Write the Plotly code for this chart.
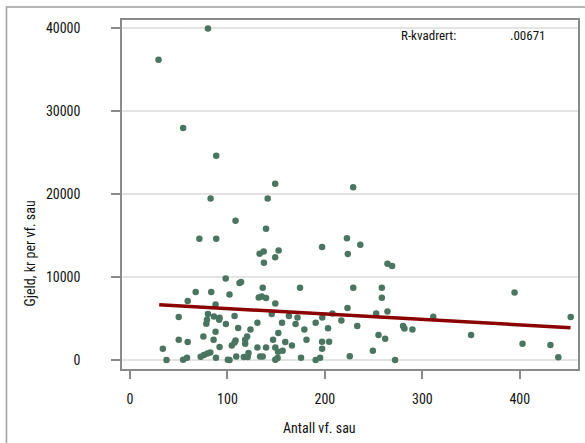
import plotly.graph_objects as go

# Scatter data: Antall vf. sau (x) vs Gjeld, kr per vf. sau (y)
antall = [80, 29.3, 54.5, 88.5, 149, 82.7, 141.3, 108.3, 139.6, 71.2,
          88.5, 133, 137.2, 152.5, 149, 137.4, 98.2, 112.4, 114, 229,
          222.6, 197.1, 236.3, 223.5, 264.2, 269, 174.5, 229.1, 258.4, 258.4,
          394.6, 223.2, 252.6, 264.2, 207.7, 197.3, 216.9, 190.5, 178.9, 203.2,
          233.2, 280.2, 281.6, 289.8, 311.2, 350, 452.2, 181.1, 197.1, 204.3,
          197.1, 255, 261.8, 249.2, 402.8, 431.4, 439.5, 225.5, 272, 175.5,
          190.5, 195.1, 67.4, 83.4, 102.1, 136.2, 132.1, 135.2, 139.6, 59.2,
          87.8, 149.1, 50, 80, 86.1, 91.9, 79, 78.3, 107.3, 98.4,
          111, 123.6, 130.7, 145.4, 156, 163.1, 171.9, 169.9, 87.8, 75.3,
          59.2, 50, 33.7, 37.5, 54.5, 58.5, 72.5, 75.9, 79.4, 82.4,
          85.8, 91.9, 88.2, 100.4, 102.1, 104.5, 108.3, 107.3, 109, 118.2,
          118.2, 120.2, 116.8, 121.6, 130.7, 133.5, 136.2, 139.6, 146.8, 152.2,
          149.1, 151.9, 149.1, 151.5, 156.6, 159.3, 166.2, 120.8, 91.5]
gjeld = [40000, 36240, 28010, 24640, 21265, 19500, 19500, 16830, 15840, 14660,
         14660, 12850, 13110, 13230, 12430, 11750, 9860, 9300, 9440, 20870,
         14720, 13650, 13920, 12820, 11630, 11350, 8730, 8730, 8730, 7530,
         8170, 6290, 5640, 5880, 5640, 5160, 4800, 4520, 3690, 3850,
         4120, 4120, 3830, 3710, 5240, 3030, 5200, 2470, 2230, 2230,
         1390, 3030, 2590, 1140, 1990, 1830, 360, 480, 20, 300,
         20, 300, 8210, 8210, 7930, 8730, 7570, 7690, 7490, 7130,
         6730, 6850, 5200, 5570, 5280, 5120, 4880, 4400, 5320, 4360,
         3880, 3710, 4520, 5570, 4520, 5320, 5160, 4360, 3430, 2870,
         2190, 2470, 1390, 20, 60, 300, 420, 620, 820, 940,
         2470, 1590, 300, 60, 20, 1780, 2390, 2150, 460, 1990,
         2470, 2870, 400, 870, 1540, 460, 460, 1540, 2470, 3270,
         1540, 1020, 60, 260, 1140, 2190, 1780, 380, 4880]

# Fitted line end points
fit_x = [30, 452]
fit_y = [6690, 3920]

x_ticks = [0, 100, 200, 300, 400]
y_ticks = [0, 10000, 20000, 30000, 40000]

FONT = "Liberation Sans Narrow, Arial Narrow, Roboto Condensed, DejaVu Sans Condensed, sans-serif"

fig = go.Figure()
fig.add_trace(go.Scatter(x=antall, y=gjeld, mode="markers",
                         marker=dict(color="#4a7560", size=6.5, line=dict(width=0)),
                         showlegend=False, hoverinfo="skip"))
fig.add_trace(go.Scatter(x=fit_x, y=fit_y, mode="lines",
                         line=dict(color="#8b0000", width=3.5),
                         showlegend=False, hoverinfo="skip"))

fig.update_layout(
    width=585, height=443,
    margin=dict(l=122, r=5, t=20, b=74),
    paper_bgcolor="white", plot_bgcolor="white",
    font=dict(family=FONT, size=14, color="#111111"),
    xaxis=dict(range=[-8.2, 459.7], tickvals=x_ticks, ticktext=[str(v) for v in x_ticks],
               showgrid=False, zeroline=False, showline=True, mirror=True,
               linecolor="#8a8a8a", linewidth=1.5,
               ticks="outside", ticklen=8, tickcolor="#8a8a8a", tickwidth=1.5,
               ticklabelstandoff=8, tickfont=dict(size=14)),
    yaxis=dict(range=[-1060, 41024], tickvals=y_ticks, ticktext=[str(v) for v in y_ticks],
               showgrid=True, gridcolor="#e3e3e3", gridwidth=1.5, zeroline=False,
               showline=True, mirror=True, linecolor="#8a8a8a", linewidth=1.5,
               ticks="outside", ticklen=9, tickcolor="#8a8a8a", tickwidth=1.5,
               ticklabelstandoff=28, tickfont=dict(size=14)),
    shapes=[dict(type="rect", xref="paper", yref="paper",
                 x0=(6 - 122) / 458, x1=(592 - 122) / 458,
                 y0=(369 - 452) / 349, y1=(369 - 7) / 349,
                 line=dict(color="#a0a0a0", width=1.5), fillcolor="rgba(0,0,0,0)",
                 layer="below")],
    annotations=[
        dict(text="Antall vf. sau", xref="paper", yref="paper",
             x=(320 - 122) / 458, y=(369 - 428) / 349, showarrow=False,
             xanchor="center", yanchor="middle", font=dict(size=14)),
        dict(text="Gjeld, kr per vf. sau", xref="paper", yref="paper",
             x=(30 - 122) / 458, y=(369 - 253) / 349, showarrow=False, textangle=-90,
             xanchor="center", yanchor="middle", font=dict(size=14)),
        dict(text="R-kvadrert:", xref="paper", yref="paper",
             x=(430 - 122) / 458, y=(369 - 35) / 349, showarrow=False,
             xanchor="center", yanchor="middle", font=dict(size=13)),
        dict(text=".00671", xref="paper", yref="paper",
             x=(530 - 122) / 458, y=(369 - 35) / 349, showarrow=False,
             xanchor="center", yanchor="middle", font=dict(size=13)),
    ],
)

fig.write_html("out.html")
